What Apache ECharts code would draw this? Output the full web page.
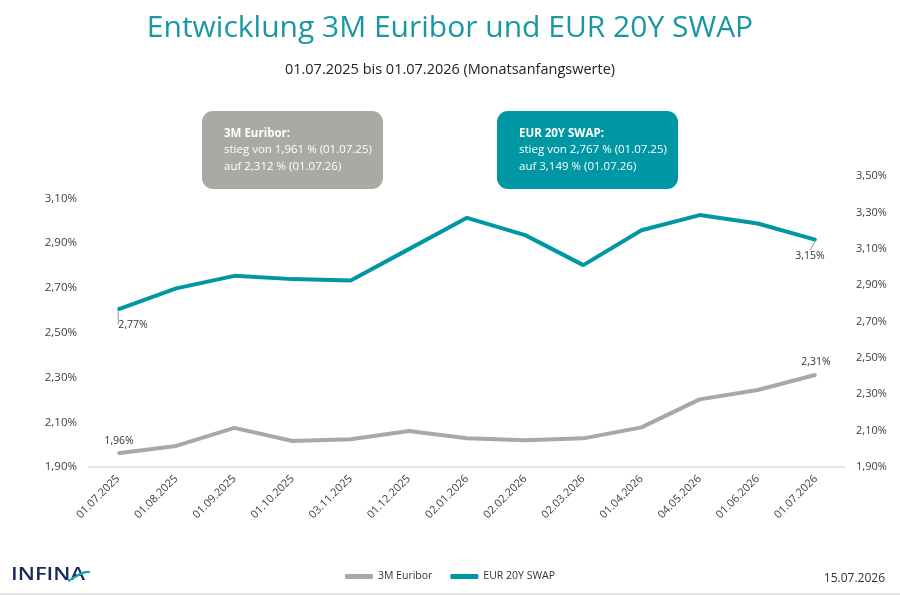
<!DOCTYPE html>
<html>
<head>
<meta charset="utf-8">
<script src="https://cdn.jsdelivr.net/npm/echarts@6/dist/echarts.min.js"></script>
<style>
  html, body { margin: 0; padding: 0; background: #fff; }
  #chart { width: 900px; height: 595px; }
</style>
</head>
<body>
<div id="chart"></div>
<script>
// Monatsanfangswerte
const dates = ['01.07.2025', '01.08.2025', '01.09.2025', '01.10.2025', '03.11.2025', '01.12.2025',
  '02.01.2026', '02.02.2026', '02.03.2026', '01.04.2026', '04.05.2026', '01.06.2026', '01.07.2026'];
const euribor = [1.961, 1.994, 2.075, 2.016, 2.024, 2.061, 2.028, 2.020, 2.028, 2.077, 2.202, 2.244, 2.312];
const swap = [2.767, 2.882, 2.951, 2.933, 2.926, 3.098, 3.270, 3.175, 3.010, 3.202, 3.285, 3.239, 3.149];
const leftTicks = { min: 1.9, max: 3.2, step: 0.2 };
const rightTicks = { min: 1.9, max: 3.5, step: 0.2 };
const boxTexts = {
  euribor: ['3M Euribor:', 'stieg von 1,961 % (01.07.25)', 'auf 2,312 % (01.07.26)'],
  swap: ['EUR 20Y SWAP:', 'stieg von 2,767 % (01.07.25)', 'auf 3,149 % (01.07.26)']
};

const TEAL = '#0097a4';
const GREY = '#a9a8a3';
const FONT = '"Open Sans", "Noto Sans", sans-serif';

const pct = v => v.toFixed(2).replace('.', ',') + '%';
const lastIdx = dates.length - 1;
const isEdge = i => i === 0 || i === lastIdx;

// only first and last point carry a label
const withEdgeLabels = (values, withLine) => values.map((v, i) => ({
  value: v,
  label: { show: isEdge(i) },
  labelLine: { show: withLine && isEdge(i) }
}));

function infoBox(x, lines, fill) {
  return {
    type: 'group',
    left: x, top: 111,
    children: [
      { type: 'rect', shape: { x: 0, y: 0, width: 181, height: 78, r: 11 }, style: { fill: fill } },
      {
        type: 'text', x: 22, y: 14,
        style: {
          text: '{b|' + lines[0] + '}\n' + lines[1] + '\n' + lines[2],
          fill: '#fff', font: '11.5px ' + FONT, lineHeight: 16.5,
          rich: { b: { fontWeight: 'bold', fill: '#fff', fontSize: 11.5, fontFamily: FONT, lineHeight: 16.5 } }
        }
      }
    ]
  };
}

const chart = echarts.init(document.getElementById('chart'));

chart.setOption({
  animation: false,
  textStyle: { fontFamily: FONT },
  title: [
    {
      text: 'Entwicklung 3M Euribor und EUR 20Y SWAP',
      left: 'center', top: 8,
      textStyle: { color: '#1a97a3', fontSize: 30, fontWeight: 'normal', fontFamily: FONT }
    },
    {
      text: '01.07.2025 bis 01.07.2026 (Monatsanfangswerte)',
      left: 'center', top: 57,
      textStyle: { color: '#222', fontSize: 14.5, fontWeight: 500, fontFamily: FONT }
    }
  ],
  legend: {
    bottom: 8, left: 'center',
    itemWidth: 28, itemHeight: 5, itemGap: 18,
    icon: 'roundRect',
    textStyle: { color: '#333', fontSize: 10.5 },
    data: ['3M Euribor', 'EUR 20Y SWAP']
  },
  grid: { left: 89, right: 55, top: 176, bottom: 128 },
  xAxis: {
    type: 'category',
    data: dates,
    boundaryGap: true,
    axisLine: { lineStyle: { color: '#dcdcdc', width: 1.5 } },
    axisTick: { show: false },
    axisLabel: { rotate: 45, color: '#404040', fontSize: 11, margin: 10, interval: 0 }
  },
  yAxis: [
    {
      type: 'value',
      min: leftTicks.min, max: leftTicks.max, interval: leftTicks.step,
      position: 'left',
      axisLine: { show: false }, axisTick: { show: false }, splitLine: { show: false },
      axisLabel: { color: '#404040', fontSize: 11.5, margin: 12, showMaxLabel: false, formatter: pct }
    },
    {
      type: 'value',
      min: rightTicks.min, max: rightTicks.max, interval: rightTicks.step,
      position: 'right',
      axisLine: { show: false }, axisTick: { show: false }, splitLine: { show: false },
      axisLabel: { color: '#404040', fontSize: 11, margin: 11, formatter: pct }
    }
  ],
  series: [
    {
      name: '3M Euribor',
      type: 'line',
      yAxisIndex: 0,
      data: withEdgeLabels(euribor, false),
      symbol: 'circle',
      symbolSize: 2,
      showAllSymbol: true,
      color: GREY,
      lineStyle: { color: GREY, width: 4 },
      label: {
        position: 'top', distance: 6,
        color: '#333', fontSize: 10.5,
        formatter: p => pct(p.value)
      },
      labelLayout: params => params.dataIndex === 0 ? { dx: 1, dy: 0 } : { dx: 0, dy: 0 }
    },
    {
      name: 'EUR 20Y SWAP',
      type: 'line',
      yAxisIndex: 1,
      data: withEdgeLabels(swap, true),
      symbol: 'circle',
      symbolSize: 2,
      showAllSymbol: true,
      color: TEAL,
      lineStyle: { color: TEAL, width: 4 },
      label: {
        position: 'bottom', distance: 5,
        color: '#333', fontSize: 10.5,
        formatter: p => pct(p.value)
      },
      labelLine: { lineStyle: { color: '#999', width: 1 } },
      labelLayout: params => params.dataIndex === 0 ? { dx: 15, dy: 4 } : { dx: -6, dy: 5 }
    }
  ],
  graphic: [
    infoBox(202, boxTexts.euribor, '#aaa9a4'),
    infoBox(497, boxTexts.swap, TEAL),
    {
      type: 'text', x: 11, y: 566, scaleX: 1.22,
      style: { text: 'INFINA', fill: '#1b2a5e', font: '600 18px ' + FONT }
    },
    {
      type: 'bezierCurve', silent: true,
      shape: { x1: 68, y1: 581, x2: 90, y2: 572, cpx1: 76, cpy1: 577, cpx2: 82, cpy2: 571 },
      style: { stroke: '#1aa3b0', lineWidth: 2.2, fill: null }
    },
    {
      type: 'text', right: 15, top: 573,
      style: { text: '15.07.2026', fill: '#333', font: '12px ' + FONT }
    },
    {
      type: 'rect', left: 0, top: 593,
      shape: { width: 900, height: 2 }, style: { fill: '#e3e3e3' }
    }
  ]
});
</script>
</body>
</html>
